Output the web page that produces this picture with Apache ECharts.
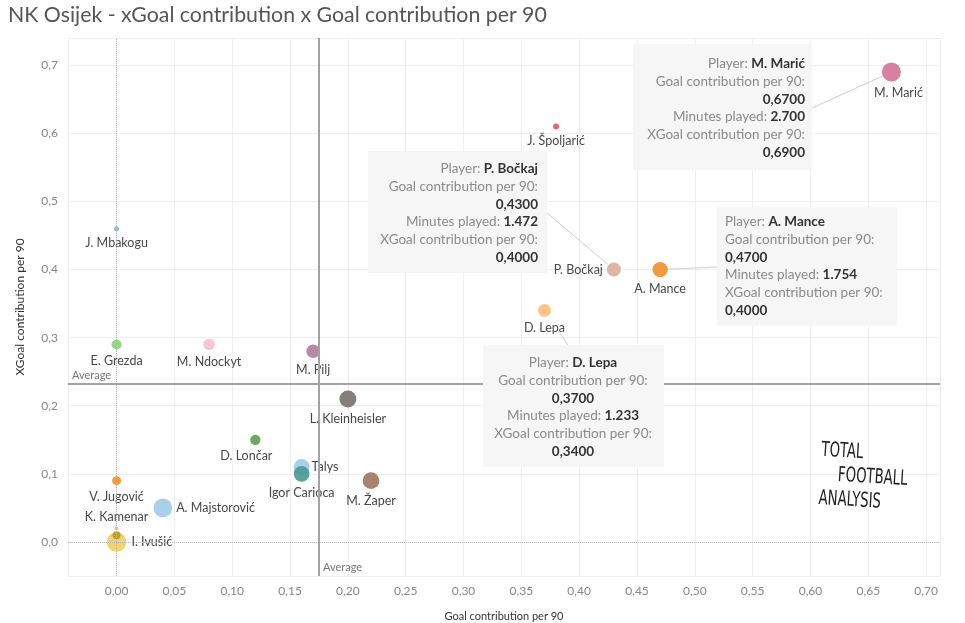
<!DOCTYPE html>
<html><head><meta charset="utf-8">
<script src="https://cdn.jsdelivr.net/npm/echarts@6/dist/echarts.min.js"></script>
<style>html,body{margin:0;padding:0;background:#fff}#c{width:965px;height:623px}</style>
</head><body><div id="c"></div>
<script>
// ---------- data ----------
const players = ['M. Marić','J. Špoljarić','P. Bočkaj','A. Mance','D. Lepa','J. Mbakogu','E. Grezda','M. Ndockyt','M. Pilj','L. Kleinheisler','D. Lončar','Talys','Igor Carioca','M. Žaper','V. Jugović','A. Majstorović','I. Ivušić','K. Kamenar',''];
const goalContrib   = [0.67,0.38,0.43,0.47,0.37,0.00,0.00,0.08,0.17,0.20,0.12,0.16,0.16,0.22,0.00,0.04,0.00,0.00,0.00];
const xGoalContrib  = [0.69,0.61,0.40,0.40,0.34,0.46,0.29,0.29,0.28,0.21,0.15,0.11,0.10,0.09,0.09,0.05,0.00,0.01,0.02];
const minutesPlayed = [2700,270,1472,1754,1233,190,750,1000,1400,2160,800,1900,1850,2100,600,2600,2880,480,90];
const avgGoalContrib = 0.175;
const avgXGoalContrib = 0.233;
const annotated = ['M. Marić','P. Bočkaj','A. Mance','D. Lepa'];

// ---------- styles ----------
const FONT = 'Lato';
const colorMap = {
  'M. Marić':'#d37295','J. Špoljarić':'#e15759','P. Bočkaj':'#d9ae9a','A. Mance':'#f28e2b','D. Lepa':'#ffbe7d',
  'J. Mbakogu':'#86bcb6','E. Grezda':'#8cd17d','M. Ndockyt':'#fabfd2','M. Pilj':'#b07aa1','L. Kleinheisler':'#79706e',
  'D. Lončar':'#59a14f','Talys':'#a0cbe8','Igor Carioca':'#499894','M. Žaper':'#9d7660','V. Jugović':'#f28e2b',
  'A. Majstorović':'#a0cbe8','I. Ivušić':'#f1ce63','K. Kamenar':'#b6992d','':'#ff9d9a'
};
const labelMap = {
  'M. Marić':{position:'bottom',offset:[7,0]},
  'P. Bočkaj':{position:'left',distance:4},
  'Talys':{position:'right',distance:2},
  'A. Majstorović':{position:'right',distance:4},
  'I. Ivušić':{position:'right',distance:5},
  'K. Kamenar':{position:'top',distance:8},
  'D. Lončar':{position:'bottom',offset:[-9,0]}
};
const boxLayout = {
  'M. Marić': {rect:[633,44,179,126], anchor:[812,108], align:'right', tx:805, ty:55, gap:10},
  'P. Bočkaj':{rect:[368,151,179,122], anchor:[546,212], align:'right', tx:538, ty:160, gap:8},
  'A. Mance': {rect:[717,207,180,119], anchor:[717,267], align:'left', tx:725, ty:213, gap:9},
  'D. Lepa':  {rect:[483,345,181,122], anchor:[568,345], align:'center', tx:573, ty:354, gap:26}
};
const sizeOf = m => 19 * Math.sqrt(m / 2700);

const fmt1 = v => v.toFixed(1).replace('.', ',');
const fmt2 = v => v.toFixed(2).replace('.', ',');
const fmt4 = v => v.toFixed(4).replace('.', ',');
const fmtMin = m => String(m).replace(/\B(?=(\d{3})+(?!\d))/g, '.');

const points = players.map((n, i) => ({
  name: n,
  value: [goalContrib[i], xGoalContrib[i], minutesPlayed[i]],
  symbolSize: sizeOf(minutesPlayed[i]),
  itemStyle: {color: colorMap[n], opacity: 0.9},
  label: Object.assign({show: n !== '', position:'bottom', distance:5}, labelMap[n] || {})
}));

const chart = echarts.init(document.getElementById('c'), null, {renderer:'canvas'});
const option = {
  animation: false,
  backgroundColor: '#fff',
  title: {text:'NK Osijek - xGoal contribution x Goal contribution per 90', left:3, top:0,
    textStyle:{fontFamily:FONT, fontSize:21.3, fontWeight:'normal', color:'#555'}},
  grid: {left:68, right:25, top:38, bottom:47, containLabel:false, outerBoundsMode:'none'},
  xAxis: {type:'value', min:-0.042, max:0.712, splitNumber:15, minInterval:0.05, maxInterval:0.05,
    name:'Goal contribution per 90', nameLocation:'middle', nameGap:35,
    nameTextStyle:{fontFamily:FONT, fontSize:11, color:'#333'},
    axisLine:{show:false}, axisTick:{show:false},
    axisLabel:{showMinLabel:false, showMaxLabel:false, fontFamily:FONT, fontSize:12, color:'#888', margin:9, formatter:fmt2},
    splitLine:{show:true, lineStyle:{color:'#efefef', width:1}}},
  yAxis: {type:'value', min:-0.05, max:0.74, splitNumber:8, minInterval:0.1, maxInterval:0.1,
    name:'XGoal contribution per 90', nameLocation:'middle', nameGap:42,
    nameTextStyle:{fontFamily:FONT, fontSize:12, color:'#333'},
    axisLine:{show:false}, axisTick:{show:false},
    axisLabel:{showMinLabel:false, showMaxLabel:false, fontFamily:FONT, fontSize:12, color:'#888', margin:10, formatter:fmt1, align:'right'},
    splitLine:{show:true, lineStyle:{color:'#efefef', width:1}}},
  series: [{
    type:'scatter', z:3,
    data: points,
    label:{fontFamily:FONT, fontSize:12.5, color:'#333', formatter:'{b}'},
    markLine:{silent:true, symbol:'none', precision:4, label:{show:false},
      data:[
        {xAxis:0, lineStyle:{type:'dotted', color:'#b5b5b5', width:1}},
        {yAxis:0, lineStyle:{type:'dotted', color:'#b5b5b5', width:1}},
        {xAxis:avgGoalContrib, lineStyle:{type:'solid', color:'#a3a3a3', width:2}},
        {yAxis:avgXGoalContrib, lineStyle:{type:'solid', color:'#a3a3a3', width:2}}
      ]}
  }]
};
chart.setOption(option);

// ---------- annotations (positioned via the library's scales) ----------
const g = [];
const avgX = chart.convertToPixel({gridIndex:0}, [avgGoalContrib, avgXGoalContrib]);
const gridBottom = chart.convertToPixel({gridIndex:0}, [0, -0.05])[1];
const gridLeft = chart.convertToPixel({gridIndex:0}, [-0.042, 0])[0];
g.push({type:'text', x:avgX[0]+4, y:gridBottom-9, z:5,
  style:{text:'Average', fontFamily:FONT, fontSize:11, fill:'#777', textVerticalAlign:'middle'}});
g.push({type:'text', x:gridLeft+4, y:avgX[1]-8, z:5,
  style:{text:'Average', fontFamily:FONT, fontSize:11, fill:'#777', textVerticalAlign:'middle'}});

annotated.forEach(n => {
  const i = players.indexOf(n);
  const L = boxLayout[n];
  const p = chart.convertToPixel({gridIndex:0}, [goalContrib[i], xGoalContrib[i]]);
  const ax = L.anchor[0], ay = L.anchor[1];
  const dx = p[0]-ax, dy = p[1]-ay, d = Math.sqrt(dx*dx+dy*dy);
  const ex = p[0] - dx/d*L.gap, ey = p[1] - dy/d*L.gap;
  g.push({type:'line', z:1, shape:{x1:ax, y1:ay, x2:ex, y2:ey}, style:{stroke:'#cfcfcf', lineWidth:1}});
  g.push({type:'rect', z:10, shape:{x:L.rect[0], y:L.rect[1], width:L.rect[2], height:L.rect[3]},
    style:{fill:'#f6f6f6', stroke:null}});
  const txt = 'Player: {b|' + n + '}\nGoal contribution per 90:\n{b|' + fmt4(goalContrib[i]) +
    '}\nMinutes played: {b|' + fmtMin(minutesPlayed[i]) + '}\nXGoal contribution per 90:\n{b|' + fmt4(xGoalContrib[i]) + '}';
  g.push({type:'text', z:11, x:L.tx, y:L.ty,
    style:{text:txt, align:L.align, verticalAlign:'top', fontFamily:FONT, fontSize:13.5, fill:'#8a8a8a', lineHeight:17.7,
      rich:{b:{fontFamily:FONT, fontSize:13.5, fontWeight:'bold', fill:'#333', lineHeight:17.7}}}});
});

// logo
g.push({type:'group', x:822, y:440, rotation:-0.06, scaleX:0.82, scaleY:1.15, z:5, children:[
  {type:'text', x:0, y:0, style:{text:'TOTAL', fontFamily:'DejaVu Sans Condensed', fontSize:18, fill:'#222'}},
  {type:'text', x:22, y:21, style:{text:'FOOTBALL', fontFamily:'DejaVu Sans Condensed', fontSize:18, fill:'#222'}},
  {type:'text', x:0, y:42, style:{text:'ANALYSIS', fontFamily:'DejaVu Sans Condensed', fontSize:18, fill:'#222'}}
]});
chart.setOption({graphic: g});
</script></body></html>
